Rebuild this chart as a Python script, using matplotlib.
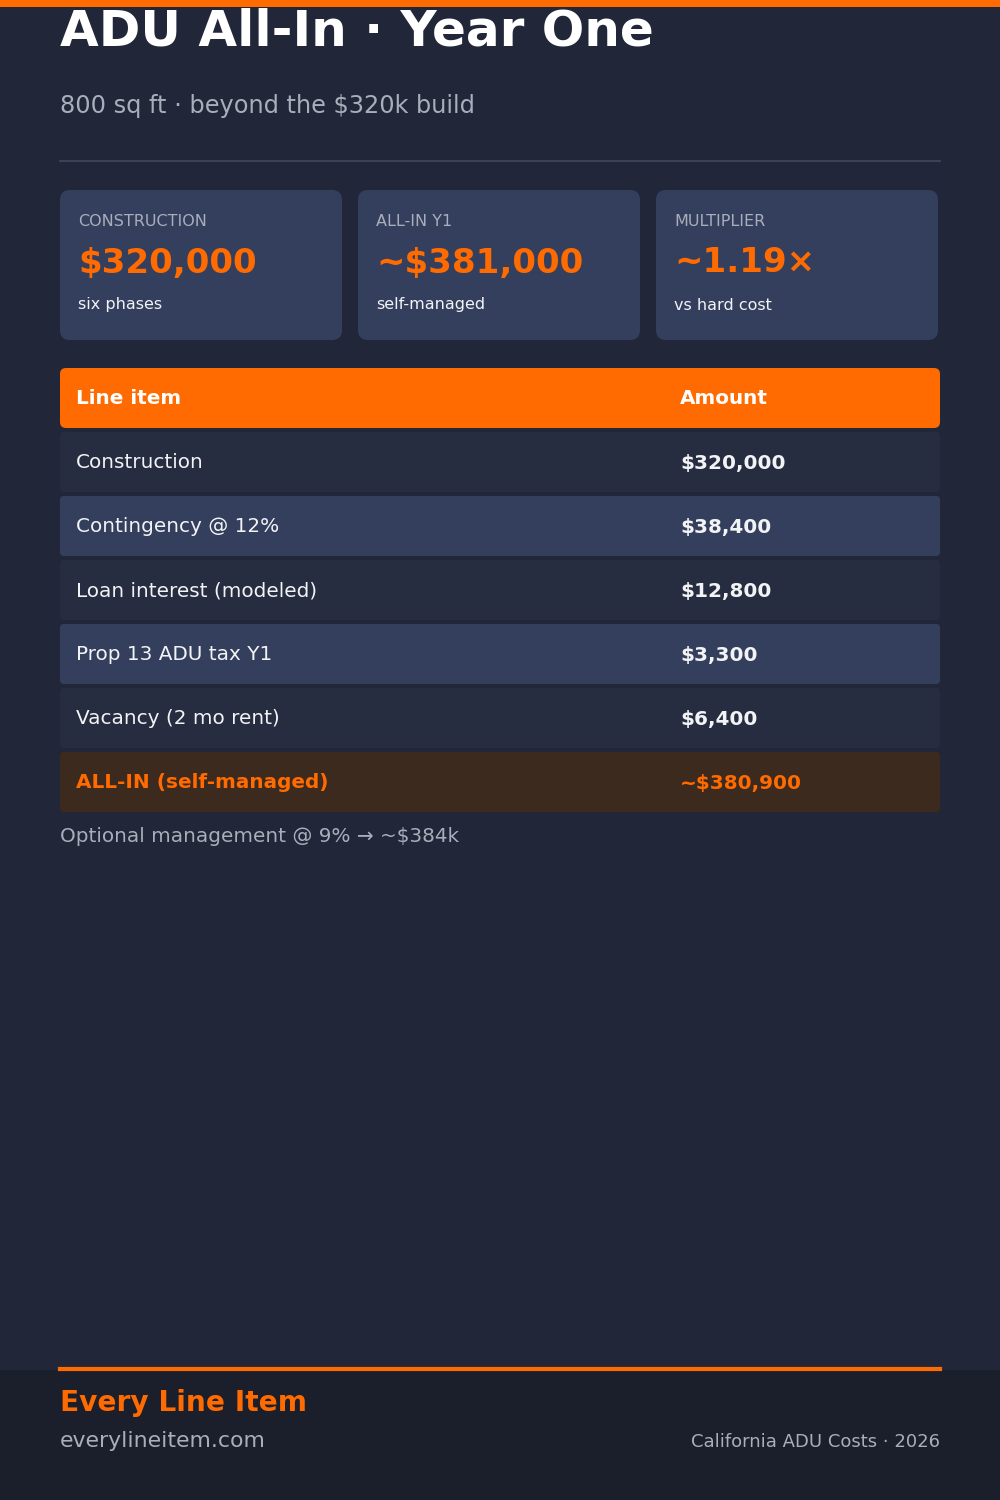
import matplotlib
matplotlib.use("Agg")
import matplotlib.pyplot as plt
from matplotlib.patches import FancyBboxPatch, Rectangle

BG = "#212738"
CARD = "#343f5e"
ROW_DARK = "#262d40"
ORANGE = "#ff6b00"
TOTAL_BG = "#3d2a1e"
FOOT_BG = "#1b1f2b"
MUTED = "#a9aebb"
WHITE = "#f2f3f5"

# data
card_labels = ["CONSTRUCTION", "ALL-IN Y1", "MULTIPLIER"]
card_values = ["$320,000", "~$381,000", "~1.19×"]
card_notes = ["six phases", "self-managed", "vs hard cost"]
row_items = ["Construction", "Contingency @ 12%", "Loan interest (modeled)",
             "Prop 13 ADU tax Y1", "Vacancy (2 mo rent)"]
row_amounts = ["$320,000", "$38,400", "$12,800", "$3,300", "$6,400"]
total_item = "ALL-IN (self-managed)"
total_amount = "~$380,900"

fig = plt.figure(figsize=(10, 15), dpi=100)
fig.patch.set_facecolor(BG)
ax = fig.add_axes([0, 0, 1, 1])
ax.set_xlim(0, 1000)
ax.set_ylim(1500, 0)
ax.axis("off")


def box(x, y, w, h, color, r=8):
    ax.add_patch(FancyBboxPatch((x + r, y + r), w - 2 * r, h - 2 * r,
                                boxstyle=f"round,pad={r}", fc=color, ec="none"))


def px(s):
    return s * 0.72


ax.add_patch(Rectangle((0, 0), 1000, 7, fc=ORANGE, ec="none"))
ax.text(60, 32, "ADU All-In · Year One", color="white", fontsize=px(50),
        fontweight="bold", va="center")
ax.text(60, 106, "800 sq ft · beyond the $320k build", color=MUTED,
        fontsize=px(24), va="center")
ax.plot([60, 940], [161, 161], color="#3a4258", lw=1.5)

for i, (lab, val, note) in enumerate(zip(card_labels, card_values, card_notes)):
    x = 60 + i * 298
    box(x, 190, 282, 150, CARD, r=10)
    ax.text(x + 18, 221, lab, color=MUTED, fontsize=px(16), va="center")
    ax.text(x + 18, 263, val, color=ORANGE, fontsize=px(34),
            fontweight="bold", va="center")
    ax.text(x + 18, 305, note, color=WHITE, fontsize=px(16), va="center")

box(60, 368, 880, 60, ORANGE, r=6)
ax.text(76, 399, "Line item", color="white", fontsize=px(20),
        fontweight="bold", va="center")
ax.text(680, 399, "Amount", color="white", fontsize=px(20),
        fontweight="bold", va="center")

for i, (item, amt) in enumerate(zip(row_items, row_amounts)):
    y = 432 + i * 64
    box(60, y, 880, 60, ROW_DARK if i % 2 == 0 else CARD, r=4)
    ax.text(76, y + 31, item, color=WHITE, fontsize=px(20), va="center")
    ax.text(680, y + 31, amt, color=WHITE, fontsize=px(20),
            fontweight="bold", va="center")

y = 432 + len(row_items) * 64
box(60, y, 880, 60, TOTAL_BG, r=4)
ax.text(76, y + 31, total_item, color=ORANGE, fontsize=px(20),
        fontweight="bold", va="center")
ax.text(680, y + 31, total_amount, color=ORANGE, fontsize=px(20),
        fontweight="bold", va="center")

ax.text(60, 837, "Optional management @ 9% → ~$384k", color=MUTED,
        fontsize=px(20), va="center")

ax.add_patch(Rectangle((0, 1370), 1000, 130, fc=FOOT_BG, ec="none"))
ax.plot([60, 940], [1369, 1369], color=ORANGE, lw=3)
ax.text(60, 1403, "Every Line Item", color=ORANGE, fontsize=px(28),
        fontweight="bold", va="center")
ax.text(60, 1441, "everylineitem.com", color=MUTED, fontsize=px(22), va="center")
ax.text(940, 1442, "California ADU Costs · 2026", color=MUTED,
        fontsize=px(18), va="center", ha="right")

fig.savefig("out.png", dpi=100, facecolor=BG)
